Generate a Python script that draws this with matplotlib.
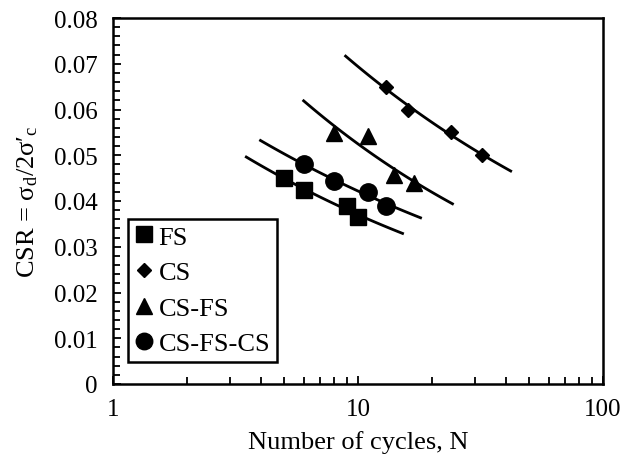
import numpy as np
import matplotlib
matplotlib.use("Agg")
import matplotlib.pyplot as plt
from matplotlib.ticker import MultipleLocator, FixedLocator, NullFormatter, FixedFormatter

plt.rcParams['font.family'] = ['Liberation Serif', 'DejaVu Serif']
plt.rcParams['mathtext.fontset'] = 'custom'
plt.rcParams['mathtext.rm'] = 'Liberation Serif'
plt.rcParams['mathtext.it'] = 'Liberation Serif:italic'

# Cyclic test results: number of cycles to failure and applied CSR
fs_n = [5, 6, 9, 10]
fs_csr = [0.0450, 0.0424, 0.0388, 0.0365]

cs_n = [13, 16, 24, 32]
cs_csr = [0.0650, 0.0600, 0.0550, 0.0500]

csfs_n = [8, 11, 14, 17]
csfs_csr = [0.0548, 0.0542, 0.0457, 0.0440]

csfscs_n = [6, 8, 11, 13]
csfscs_csr = [0.0480, 0.0444, 0.0419, 0.0390]

# Extent of each power-law trend line (cycles)
fs_fit_range = [3.5, 15.2]
cs_fit_range = [8.9, 42]
csfs_fit_range = [6.0, 24.3]
csfscs_fit_range = [4.0, 18.0]

series_labels = ['FS', 'CS', 'CS-FS', 'CS-FS-CS']
x_tick_labels = ['1', '10', '100']
y_tick_labels = ['0', '0.01', '0.02', '0.03', '0.04', '0.05', '0.06', '0.07', '0.08']

TICK_FS = 18
LABEL_FS = 19

fig = plt.figure(figsize=(6.24, 4.56), dpi=100)
ax = fig.add_axes([113 / 624, 71 / 456, 490 / 624, 366 / 456])


def power_fit_line(n, csr, n_range):
    b, log_a = np.polyfit(np.log(n), np.log(csr), 1)
    xs = np.logspace(np.log10(n_range[0]), np.log10(n_range[1]), 60)
    return xs, np.exp(log_a) * xs ** b


series = [
    (fs_n, fs_csr, fs_fit_range, 's', 12),
    (cs_n, cs_csr, cs_fit_range, 'D', 7),
    (csfs_n, csfs_csr, csfs_fit_range, '^', 12),
    (csfscs_n, csfscs_csr, csfscs_fit_range, 'o', 12.5),
]

handles = []
for (n, csr, rng, mk, ms), label in zip(series, series_labels):
    xs, ys = power_fit_line(n, csr, rng)
    ax.plot(xs, ys, color='black', lw=2.0, zorder=2)
    h, = ax.plot(n, csr, linestyle='none', marker=mk, markersize=ms,
                 color='black', markeredgecolor='black', zorder=3, label=label)
    handles.append(h)

ax.set_xscale('log')
ax.set_xlim(1, 100)
ax.set_ylim(0, 0.08)

ax.xaxis.set_major_locator(FixedLocator([1, 10, 100]))
ax.xaxis.set_major_formatter(FixedFormatter(x_tick_labels))
ax.xaxis.set_minor_locator(FixedLocator([k * d for d in (1, 10) for k in range(2, 10)]))
ax.xaxis.set_minor_formatter(NullFormatter())

ax.yaxis.set_major_locator(FixedLocator(np.arange(0, 0.0801, 0.01)))
ax.yaxis.set_major_formatter(FixedFormatter(y_tick_labels))
ax.yaxis.set_minor_locator(MultipleLocator(0.002))

ax.tick_params(which='both', direction='in', top=False, right=False,
               width=1.3, colors='black', labelsize=TICK_FS)
ax.tick_params(which='major', length=5.5)
ax.tick_params(which='minor', length=5)
ax.tick_params(axis='y', which='major', pad=11)
ax.tick_params(axis='x', which='major', pad=10)

for sp in ax.spines.values():
    sp.set_linewidth(1.8)
    sp.set_color('black')

ax.set_xlabel('Number of cycles, N', fontsize=LABEL_FS, labelpad=7)
ax.set_ylabel('CSR = σ$_\\mathrm{d}$/2σ′$_\\mathrm{c}$', fontsize=LABEL_FS, labelpad=10)

leg = ax.legend(handles=handles, loc='lower left', bbox_to_anchor=(0.031, 0.060),
                borderaxespad=0, fontsize=LABEL_FS, frameon=True, fancybox=False,
                framealpha=1, edgecolor='black', handlelength=0.7,
                handletextpad=0.2, labelspacing=0.46, borderpad=0.25,
                markerscale=0.95)
leg.get_frame().set_linewidth(1.8)

fig.savefig('out.png', dpi=100)
